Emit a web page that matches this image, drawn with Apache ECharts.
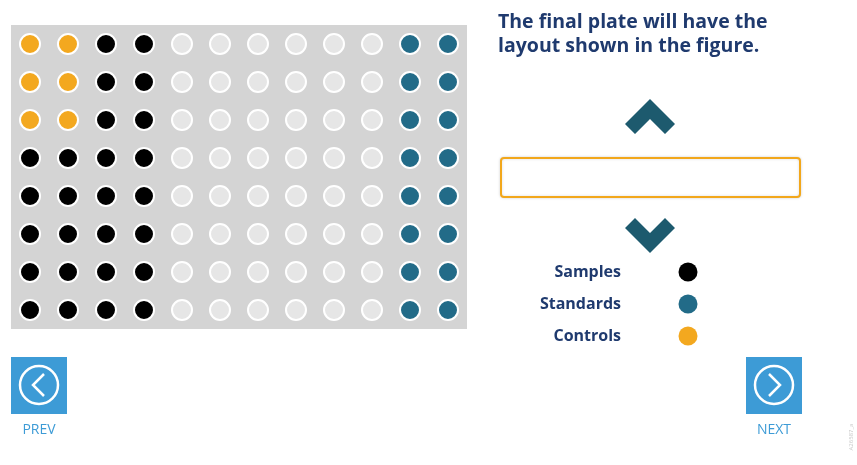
<!DOCTYPE html>
<html lang="en">
<head>
    <meta charset="UTF-8">
    <title>plate layout</title>
    <style>
        body {
            margin: 0;
            padding: 0;
            background: #fff;
        }
        #chart {
            width: 857px;
            height: 465px;
        }
    </style>
</head>
<body>
<div id="chart"></div>
<script src="https://cdn.jsdelivr.net/npm/echarts@6/dist/echarts.min.js"></script>
<script>
    // plate layout: C = control, S = sample, T = standard, E = empty
    const rowLabels = ["A", "B", "C", "D", "E", "F", "G", "H"];
    const colLabels = ["1", "2", "3", "4", "5", "6", "7", "8", "9", "10", "11", "12"];
    const plateRows = [
        "CCSSEEEEEETT",
        "CCSSEEEEEETT",
        "CCSSEEEEEETT",
        "SSSSEEEEEETT",
        "SSSSEEEEEETT",
        "SSSSEEEEEETT",
        "SSSSEEEEEETT",
        "SSSSEEEEEETT",
    ];
    const legendNames = ["Samples", "Standards", "Controls"];
    const legendCodes = ["S", "T", "C"];
    const titleLines = ["The final plate will have the", "layout shown in the figure."];

    const colors = {
        S: "#000000",
        T: "#226b88",
        C: "#f3a81f",
        E: "#e6e6e6",
    };
    const navy = "#1f3a6e";
    const teal = "#1d5a6e";
    const blue = "#3d9bd6";

    const wells = {S: [], T: [], C: [], E: []};
    plateRows.forEach((row, r) => {
        row.split("").forEach((code, c) => {
            wells[code].push([colLabels[c], rowLabels[r]]);
        });
    });

    const chart = echarts.init(document.getElementById("chart"));

    function wellSeries(code) {
        return {
            type: "scatter",
            data: wells[code],
            symbol: "circle",
            symbolSize: 20,
            silent: true,
            itemStyle: {
                color: colors[code],
                borderColor: "#ffffff",
                borderWidth: 2,
                opacity: 1,
            },
        };
    }

    function navButton(x, label, dir) {
        const cx = x + 28;
        const cy = 385;
        const arrow = dir < 0
            ? [[cx + 5, cy - 11], [cx - 6, cy], [cx + 5, cy + 11]]
            : [[cx - 5, cy - 11], [cx + 6, cy], [cx - 5, cy + 11]];
        return [
            {type: "rect", shape: {x: x, y: 357, width: 56, height: 57}, style: {fill: blue}},
            {type: "circle", shape: {cx: cx, cy: cy, r: 19}, style: {fill: "none", stroke: "#fff", lineWidth: 2.5}},
            {type: "polyline", shape: {points: arrow}, style: {fill: "none", stroke: "#fff", lineWidth: 2.5}},
            {
                type: "text", x: cx, y: 430,
                style: {text: label, fill: blue, font: "14px 'Open Sans'", align: "center", verticalAlign: "middle"},
            },
        ];
    }

    const graphics = [];
    titleLines.forEach((line, i) => {
        graphics.push({
            type: "text", x: 498, y: 22 + i * 24,
            style: {text: line, fill: navy, font: "bold 19.5px 'Open Sans'", verticalAlign: "middle"},
        });
    });
    // up / down chevrons
    graphics.push({
        type: "polygon",
        shape: {points: [[625, 124], [650, 99], [675, 124], [665, 134], [650, 119], [635, 134]]},
        style: {fill: teal},
    });
    graphics.push({
        type: "polygon",
        shape: {points: [[625, 228], [635, 218], [650, 233], [665, 218], [675, 228], [650, 253]]},
        style: {fill: teal},
    });
    // answer box
    graphics.push({
        type: "rect",
        shape: {x: 501, y: 158, width: 299, height: 39, r: 3},
        style: {fill: "#fff", stroke: "#f2a71b", lineWidth: 2, shadowBlur: 3, shadowColor: "rgba(0,0,0,0.15)"},
    });
    // legend
    legendNames.forEach((name, i) => {
        const y = 272 + i * 32;
        graphics.push({
            type: "text", x: 621, y: y,
            style: {text: name, fill: navy, font: "bold 16px 'Open Sans'", align: "right", verticalAlign: "middle"},
        });
        graphics.push({
            type: "circle", shape: {cx: 688, cy: y, r: 9.5},
            style: {fill: colors[legendCodes[i]]},
        });
    });
    graphics.push(...navButton(11, "PREV", -1));
    graphics.push(...navButton(746, "NEXT", 1));
    graphics.push({
        type: "text", x: 851, y: 437, rotation: Math.PI / 2,
        style: {text: "A26587_a", fill: "#c8c8c8", font: "6px 'Open Sans'", align: "center", verticalAlign: "middle"},
    });

    const option = {
        backgroundColor: "#ffffff",
        animation: false,
        grid: {
            left: 11,
            top: 25,
            width: 456,
            height: 304,
            show: true,
            backgroundColor: "#d4d4d4",
            borderWidth: 0,
        },
        xAxis: {
            type: "category",
            data: colLabels,
            show: false,
        },
        yAxis: {
            type: "category",
            data: rowLabels,
            inverse: true,
            show: false,
        },
        series: ["E", "S", "T", "C"].map(wellSeries),
        graphic: graphics,
    };

    chart.setOption(option);
</script>
</body>
</html>
